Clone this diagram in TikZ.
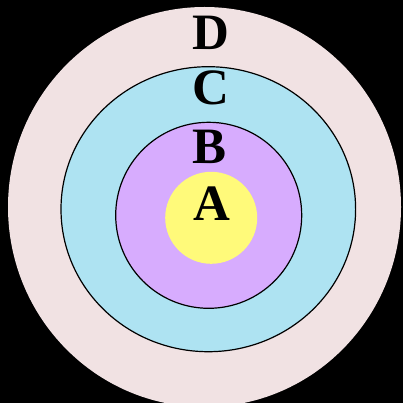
\documentclass[tikz,border=0pt]{standalone}
\usepackage{fontspec}
\setmainfont{Liberation Serif}
\definecolor{cD}{HTML}{F1E2E3}
\definecolor{cC}{HTML}{AEE3F2}
\definecolor{cB}{HTML}{D7ACFE}
\definecolor{cA}{HTML}{FFFA7A}
\begin{document}
\begin{tikzpicture}[x=1pt,y=-1pt,
  lbl/.style={anchor=base,inner sep=0pt,font=\fontsize{51}{51}\selectfont\bfseries}]
\fill[black] (0,0) rectangle (403,403);
\useasboundingbox (0,0) rectangle (403,403);
\fill[cD] (204.5,207) ellipse [x radius=196.5, y radius=200];
\filldraw[fill=cC,draw=black,line width=1.2pt] (208.3,209.2) ellipse [x radius=147.3, y radius=142.5];
\filldraw[fill=cB,draw=black,line width=1.2pt] (208.7,215.3) circle [radius=93];
\fill[cA] (211.2,217.8) circle [radius=46];
\node[lbl] (D) at (211,49.3) {D};
\node[lbl] (C) at (211,105) {C};
\node[lbl] (B) at (210,164) {B};
\node[lbl] (A) at (211.5,220) {A};
\end{tikzpicture}
\end{document}
